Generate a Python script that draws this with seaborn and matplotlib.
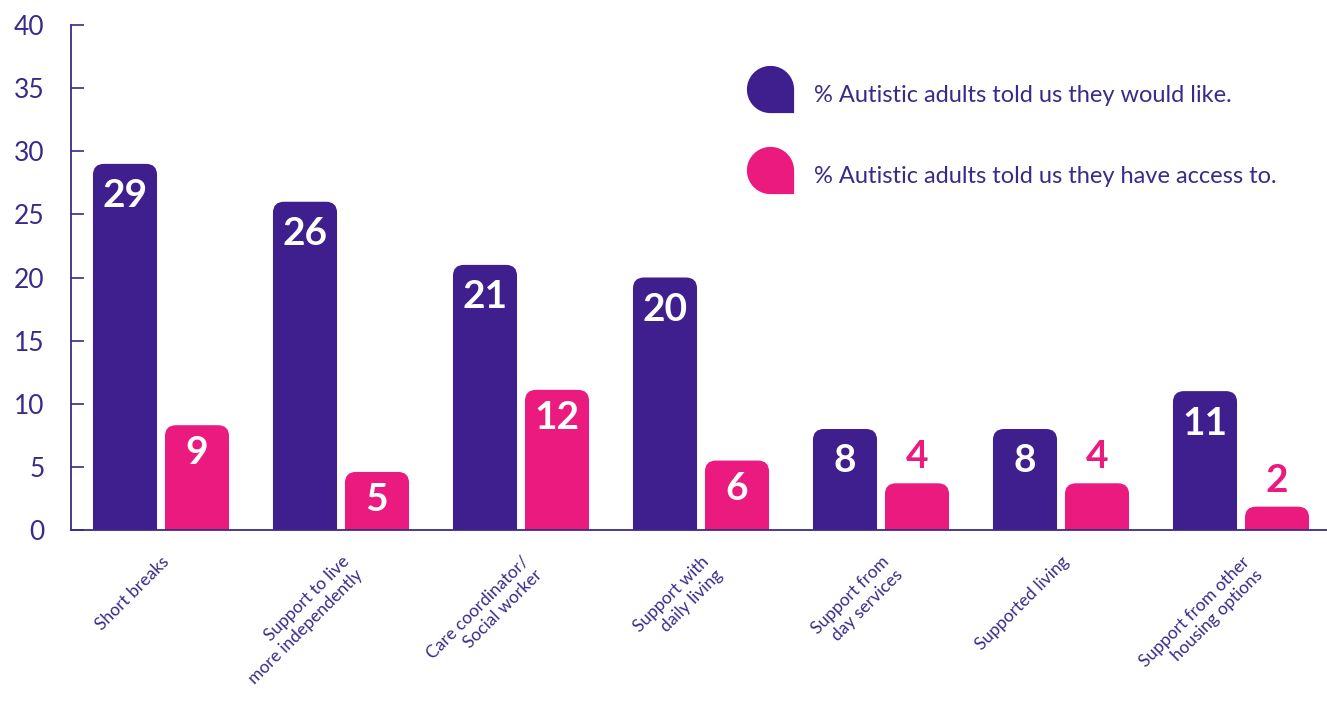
import numpy as np
import pandas as pd
import matplotlib
matplotlib.use("Agg")
import matplotlib.pyplot as plt
import seaborn as sns
from matplotlib.path import Path
from matplotlib.patches import PathPatch
from matplotlib.lines import Line2D

# Data
categories = [
    "Short breaks",
    "Support to live\nmore independently",
    "Care coordinator/\nSocial worker",
    "Support with\ndaily living",
    "Support from\nday services",
    "Supported living",
    "Support from other\nhousing options",
]
would_like = [29, 26, 21, 20, 8, 8, 11]
# pink bars are drawn a little shorter than their printed labels in the original
have_access = [8.3, 4.6, 11.1, 5.5, 3.7, 3.7, 1.85]
have_access_labels = [9, 5, 12, 6, 4, 4, 2]
series = ["% Autistic adults told us they would like.",
          "% Autistic adults told us they have access to."]

PURPLE = "#3E1F8D"
PINK = "#EB1A7E"
TEXT = "#3B2A8A"

df = pd.DataFrame({
    "category": categories * 2,
    "series": [series[0]] * len(categories) + [series[1]] * len(categories),
    "value": would_like + have_access,
})

sns.set_theme(style="white")
plt.rcParams["font.family"] = ["Lato", "DejaVu Sans"]

fig = plt.figure(figsize=(13.27, 7.02), dpi=100)
ax = fig.add_axes([71 / 1327, 172 / 702, 1260 / 1327, 505 / 702])

sns.barplot(data=df, x="category", y="value", hue="series",
            palette=[PURPLE, PINK], width=0.8, gap=0.11,
            legend=False, ax=ax, saturation=1)

ax.set_xlim(-0.5, 6.5)
ax.set_ylim(0, 40)
ax.set_yticks(range(0, 41, 5))

# swap the plain rectangles for bars with rounded top corners
px_x = ax.transData.transform((1, 0))[0] - ax.transData.transform((0, 0))[0]
px_y = ax.transData.transform((0, 1))[1] - ax.transData.transform((0, 0))[1]
r_px = 11
bars = list(ax.patches)
for p in bars:
    x0, w, h = p.get_x(), p.get_width(), p.get_height()
    x1 = x0 + w
    rx = r_px / px_x
    ry = min(r_px / px_y, h)
    verts = [(x0, 0), (x0, h - ry), (x0, h), (x0 + rx, h), (x1 - rx, h),
             (x1, h), (x1, h - ry), (x1, 0), (x0, 0)]
    codes = [Path.MOVETO, Path.LINETO, Path.CURVE3, Path.CURVE3, Path.LINETO,
             Path.CURVE3, Path.CURVE3, Path.LINETO, Path.CLOSEPOLY]
    ax.add_patch(PathPatch(Path(verts, codes), facecolor=p.get_facecolor(),
                           edgecolor="none", zorder=2))
    p.remove()

# value labels
n = len(categories)
for i, p in enumerate(bars):
    xc = p.get_x() + p.get_width() / 2
    h = p.get_height()
    if i < n:
        lab, dy, col = would_like[i], -23, "white"
    else:
        lab = have_access_labels[i - n]
        if lab >= 5:
            dy, col = -20, "white"
        else:
            dy, col = 19, PINK
    ax.annotate(str(lab), (xc, h), xytext=(0, dy), textcoords="offset points",
                ha="center", va="center", color=col, fontsize=28,
                fontweight="bold", zorder=3)

# axes styling
for s in ["top", "right"]:
    ax.spines[s].set_visible(False)
for s in ["left", "bottom"]:
    ax.spines[s].set_color(TEXT)
    ax.spines[s].set_linewidth(1.3)
ax.tick_params(axis="y", direction="in", length=9, width=1.2, color=TEXT,
               labelcolor=TEXT, labelsize=19, pad=19, left=True)
ax.tick_params(axis="x", length=0, pad=17, labelcolor=TEXT)
ax.set_xticks(range(n))
ax.set_xticklabels(categories, rotation=45, ha="right", va="top",
                   rotation_mode="anchor", multialignment="right", fontsize=12.5)
ax.set_xlabel("")
ax.set_ylabel("")

# teardrop legend markers: round everywhere except a sharp bottom-right corner
t = np.linspace(0, 1.5 * np.pi, 60)
drop = np.column_stack([np.cos(t), np.sin(t)])
drop = np.vstack([[1, -1], drop, [[0, -1], [1, -1]]])
drop_marker = Path(drop)
handles = [Line2D([], [], linestyle="none", marker=drop_marker, markersize=34,
                  markerfacecolor=c, markeredgecolor="none") for c in (PURPLE, PINK)]
leg = ax.legend(handles, series, loc="upper left", bbox_to_anchor=(746 / 1327, 1 - 76 / 702),
                bbox_transform=fig.transFigure, frameon=False, fontsize=17,
                handlelength=2.0, handleheight=2.0, labelspacing=1.9, handletextpad=0.9,
                borderpad=0, borderaxespad=0)
for txt in leg.get_texts():
    txt.set_color(TEXT)

fig.savefig("out.png", dpi=100, facecolor="white")
